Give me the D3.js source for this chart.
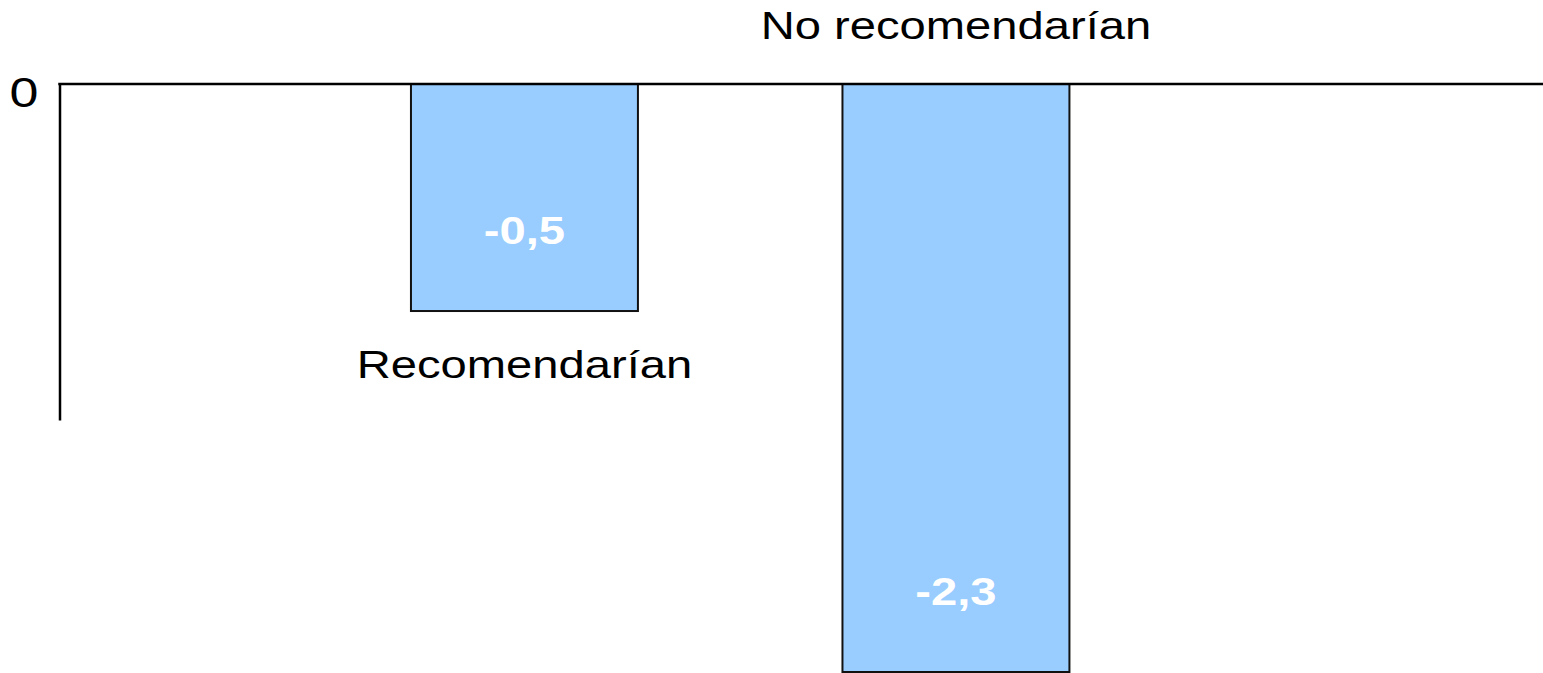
<!DOCTYPE html>
<html>
<head>
<meta charset="utf-8">
<script src="https://cdn.jsdelivr.net/npm/d3@7"></script>
<style>
  html, body { margin: 0; padding: 0; background: #fff; overflow: hidden; }
  svg { display: block; }
  text { font-family: "Liberation Sans", Arial, sans-serif; }
</style>
</head>
<body>
<svg id="chart"></svg>
<script>
// Chart data
const categories = ["Recomendarían", "No recomendarían"];
const values = [-0.5, -2.3];
const yTickValues = [0];
const yAxisMin = -0.74;

const W = 1543, H = 673;
const svg = d3.select("#chart").attr("width", W).attr("height", H);

const axisX = 59.5;
const zeroY = 84;
const textStretch = 1.21;
const fontSize = 39;
const tickFontSize = 43;

const locale = d3.formatLocale({ decimal: ",", thousands: ".", grouping: [3], currency: ["", "€"], minus: "-" });
const fmt = locale.format(".1f");

const x = d3.scaleBand()
  .domain(categories)
  .range([axisX, W])
  .paddingInner(0.474)
  .paddingOuter(0.956)
  .align(0.426);

const y = d3.scaleLinear()
  .domain([0, yAxisMin])
  .range([zeroY, 420]);

// Visible end of each bar (long bars run past the bottom edge)
const visibleEnd = v => Math.min(y(v), H - 1);
const isCut = v => y(v) > H - 1;

const rows = categories.map((c, i) => ({ cat: c, v: values[i] }));

// Bars
svg.append("g")
  .selectAll("rect")
  .data(rows)
  .join("rect")
  .attr("x", d => x(d.cat))
  .attr("y", y(0))
  .attr("width", x.bandwidth())
  .attr("height", d => visibleEnd(d.v) - y(0))
  .attr("fill", "#99CCFF")
  .attr("stroke", "#111")
  .attr("stroke-width", 2);

// Zero line
svg.append("line")
  .attr("x1", axisX - 1.25).attr("x2", W)
  .attr("y1", y(0)).attr("y2", y(0))
  .attr("stroke", "#000")
  .attr("stroke-width", 2.5);

// Value axis
const yAxis = d3.axisLeft(y)
  .tickValues(yTickValues)
  .tickSize(0)
  .tickSizeOuter(0)
  .tickFormat(d => fmt(d).replace(",0", ""));

const gAxis = svg.append("g")
  .attr("transform", `translate(${axisX},0)`)
  .call(yAxis);
gAxis.select(".domain").attr("stroke", "#000").attr("stroke-width", 2.5);
gAxis.selectAll(".tick text")
  .attr("x", 0)
  .attr("dy", 0)
  .attr("transform", `translate(-21,22) scale(${textStretch},1)`)
  .attr("text-anchor", "end")
  .attr("fill", "#000")
  .style("font-size", tickFontSize + "px")
  .style("font-family", '"Liberation Sans", Arial, sans-serif');

// Value labels inside the bars
svg.append("g")
  .selectAll("text")
  .data(rows)
  .join("text")
  .attr("transform", d => `translate(${x(d.cat) + x.bandwidth() / 2},${visibleEnd(d.v) - 67}) scale(${textStretch},1)`)
  .attr("text-anchor", "middle")
  .attr("fill", "#fff")
  .attr("font-weight", "bold")
  .style("font-size", fontSize + "px")
  .text(d => fmt(d.v));

// Category labels: below the bar end, or above the zero line when the bar runs off the page
svg.append("g")
  .selectAll("text")
  .data(rows)
  .join("text")
  .attr("transform", d => {
    const cx = x(d.cat) + x.bandwidth() / 2;
    const by = isCut(d.v) ? y(0) - 45 : visibleEnd(d.v) + 67;
    return `translate(${cx},${by}) scale(${textStretch},1)`;
  })
  .attr("text-anchor", "middle")
  .attr("fill", "#000")
  .style("font-size", fontSize + "px")
  .text(d => d.cat);
</script>
</body>
</html>
